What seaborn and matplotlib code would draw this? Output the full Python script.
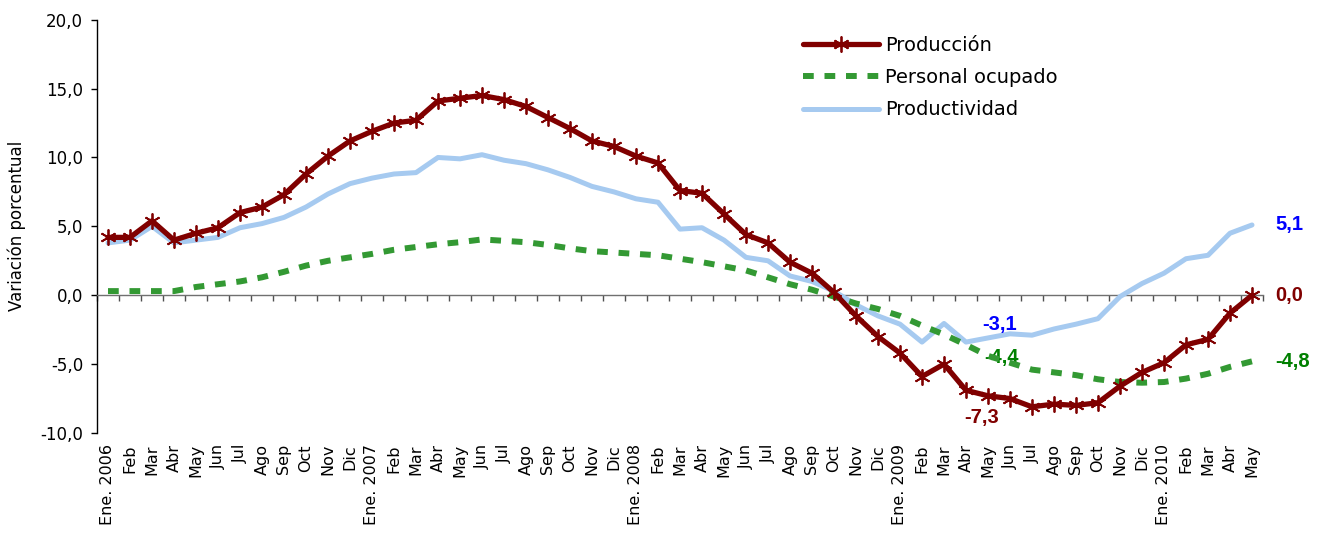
import numpy as np
import pandas as pd
import matplotlib
matplotlib.use("Agg")
import matplotlib.pyplot as plt
from matplotlib.lines import Line2D
import seaborn as sns

# ---------------- data ----------------
meses = ["Ene.", "Feb", "Mar", "Abr", "May", "Jun", "Jul", "Ago", "Sep", "Oct", "Nov", "Dic"]
anios = [2006, 2007, 2008, 2009, 2010]
etiquetas = []
for a in anios:
    for m in meses:
        etiquetas.append(f"{m} {a}" if m == "Ene." else m)
etiquetas = etiquetas[:53]  # Ene. 2006 ... May 2010

produccion = [4.2, 4.2, 5.4, 4.0, 4.5, 4.9, 6.0, 6.4, 7.3, 8.8,
              10.1, 11.2, 11.9, 12.5, 12.7, 14.1, 14.3, 14.5, 14.2, 13.7,
              12.9, 12.1, 11.2, 10.8, 10.1, 9.6, 7.6, 7.4, 5.9, 4.4,
              3.8, 2.4, 1.6, 0.2, -1.5, -3.0, -4.2, -5.9, -5.0, -6.9,
              -7.3, -7.5, -8.1, -7.9, -8.0, -7.8, -6.6, -5.6, -4.9, -3.6,
              -3.2, -1.3, 0.0]
personal = [0.3, 0.3, 0.3, 0.3, 0.6, 0.8, 1.0, 1.3, 1.7, 2.15,
            2.5, 2.75, 3.0, 3.3, 3.5, 3.7, 3.85, 4.05, 3.95, 3.85,
            3.65, 3.4, 3.2, 3.1, 3.0, 2.9, 2.65, 2.4, 2.1, 1.8,
            1.3, 0.8, 0.4, -0.1, -0.6, -1.0, -1.5, -2.2, -2.85, -3.6,
            -4.4, -4.9, -5.4, -5.6, -5.8, -6.1, -6.3, -6.35, -6.3, -6.05,
            -5.7, -5.2, -4.8]
productividad = [3.8, 4.0, 5.0, 3.8, 4.0, 4.2, 4.9, 5.2, 5.65, 6.4,
                 7.35, 8.1, 8.5, 8.8, 8.9, 10.0, 9.9, 10.2, 9.8, 9.55,
                 9.1, 8.55, 7.9, 7.5, 7.0, 6.75, 4.8, 4.9, 4.0, 2.75,
                 2.5, 1.4, 1.0, 0.3, -0.7, -1.5, -2.1, -3.4, -2.05, -3.4,
                 -3.1, -2.8, -2.9, -2.45, -2.1, -1.7, -0.1, 0.85, 1.6, 2.65,
                 2.9, 4.5, 5.1]

ytick_vals = [-10, -5, 0, 5, 10, 15, 20]
ytick_labels = ["-10,0", "-5,0", "0,0", "5,0", "10,0", "15,0", "20,0"]

# annotations: (text, x index, y value, colour)
anotaciones = [("5,1", 53.05, 5.1, "#0000FF"),
               ("0,0", 53.05, 0.0, "#800000"),
               ("-4,8", 53.05, -4.8, "#008000"),
               ("-3,1", 39.75, -2.1, "#0000FF"),
               ("-4,4", 39.85, -4.55, "#008000"),
               ("-7,3", 38.9, -8.9, "#800000")]

C_PROD = "#800000"
C_PERS = "#339933"
C_PRODV = "#A6CAF0"

df = pd.DataFrame({"mes": np.arange(len(etiquetas)),
                   "Producción": produccion,
                   "Personal ocupado": personal,
                   "Productividad": productividad})

# ---------------- plot ----------------
sns.set_theme(style="white")
plt.rcParams["font.family"] = ["DejaVu Sans"]
plt.rcParams["text.color"] = "black"
plt.rcParams["axes.labelcolor"] = "black"
plt.rcParams["xtick.labelcolor"] = "black"
plt.rcParams["ytick.labelcolor"] = "black"

W, H = 1321, 534
fig = plt.figure(figsize=(W / 100, H / 100), dpi=100)
left, right, top, bottom = 97, 1263, 19.7, 433
ax = fig.add_axes([left / W, 1 - bottom / H, (right - left) / W, (bottom - top) / H])

sns.lineplot(data=df, x="mes", y="Productividad", ax=ax, color=C_PRODV,
             lw=3.6, solid_capstyle="round", solid_joinstyle="round", zorder=3)
sns.lineplot(data=df, x="mes", y="Personal ocupado", ax=ax, color=C_PERS,
             lw=4.3, dashes=False, zorder=4)
ax.lines[-1].set_dashes([1.8, 1.8])
ax.lines[-1].set_dash_capstyle("butt")
sns.lineplot(data=df, x="mes", y="Producción", ax=ax, color=C_PROD,
             lw=3.8, marker=(6, 2, 0), markersize=11.5, markeredgewidth=1.3,
             markeredgecolor=C_PROD, solid_joinstyle="round", zorder=5)

ax.set_xlim(-0.5, len(etiquetas) - 0.5)
ax.set_ylim(-10, 20)
ax.set_xlabel("")
ax.set_ylabel("")

# y axis
ax.set_yticks(ytick_vals, ytick_labels)
ax.tick_params(axis="y", direction="out", length=4, width=1, color="black",
               labelsize=12, pad=6, left=True, labelcolor="black")
ax.spines["left"].set_color("black")
ax.spines["left"].set_linewidth(1)
ax.spines["top"].set_visible(False)
ax.spines["right"].set_visible(False)

# zero axis with ticks between categories
ax.spines["bottom"].set_position(("data", 0))
ax.spines["bottom"].set_color("#707070")
ax.spines["bottom"].set_linewidth(1)
ax.set_xticks(np.arange(-0.5, len(etiquetas), 1.0))
ax.set_xticklabels([])
ax.tick_params(axis="x", direction="out", length=4, width=1, color="#505050", bottom=True)

# category labels at the bottom of the plot area
sec = ax.secondary_xaxis(0.0)
sec.set_xticks(np.arange(len(etiquetas)), etiquetas, rotation=90)
sec.tick_params(axis="x", length=0, pad=8, labelsize=11.5, labelcolor="black")
sec.spines["bottom"].set_visible(False)

fig.text(17 / W, 1 - 226 / H, "Variación porcentual", rotation=90,
         ha="center", va="center", fontsize=12, color="black")

# value labels
for txt, xi, yv, col in anotaciones:
    ax.text(xi, yv, txt, color=col, fontsize=14.5, fontweight="bold",
            family=["Liberation Sans", "DejaVu Sans"], ha="left", va="center")

# legend
handles = [Line2D([], [], color=C_PROD, lw=3.8, marker=(6, 2, 0), markersize=11.5,
                  markeredgewidth=1.3, markeredgecolor=C_PROD),
           Line2D([], [], color=C_PERS, lw=4.3, dashes=[1.8, 1.8], dash_capstyle="butt"),
           Line2D([], [], color=C_PRODV, lw=3.6, solid_capstyle="round")]
leg_labels = ["Producción", "Personal ocupado", "Productividad"]
leg = ax.legend(handles, leg_labels, loc="upper left", bbox_to_anchor=(803 / W, 1 - 36 / H),
                bbox_transform=fig.transFigure, frameon=False, fontsize=14,
                handlelength=3.9, handletextpad=0.3, labelspacing=0.68,
                borderpad=0, borderaxespad=0, numpoints=1)
for t in leg.get_texts():
    t.set_color("black")

fig.savefig("out.png", dpi=100)
